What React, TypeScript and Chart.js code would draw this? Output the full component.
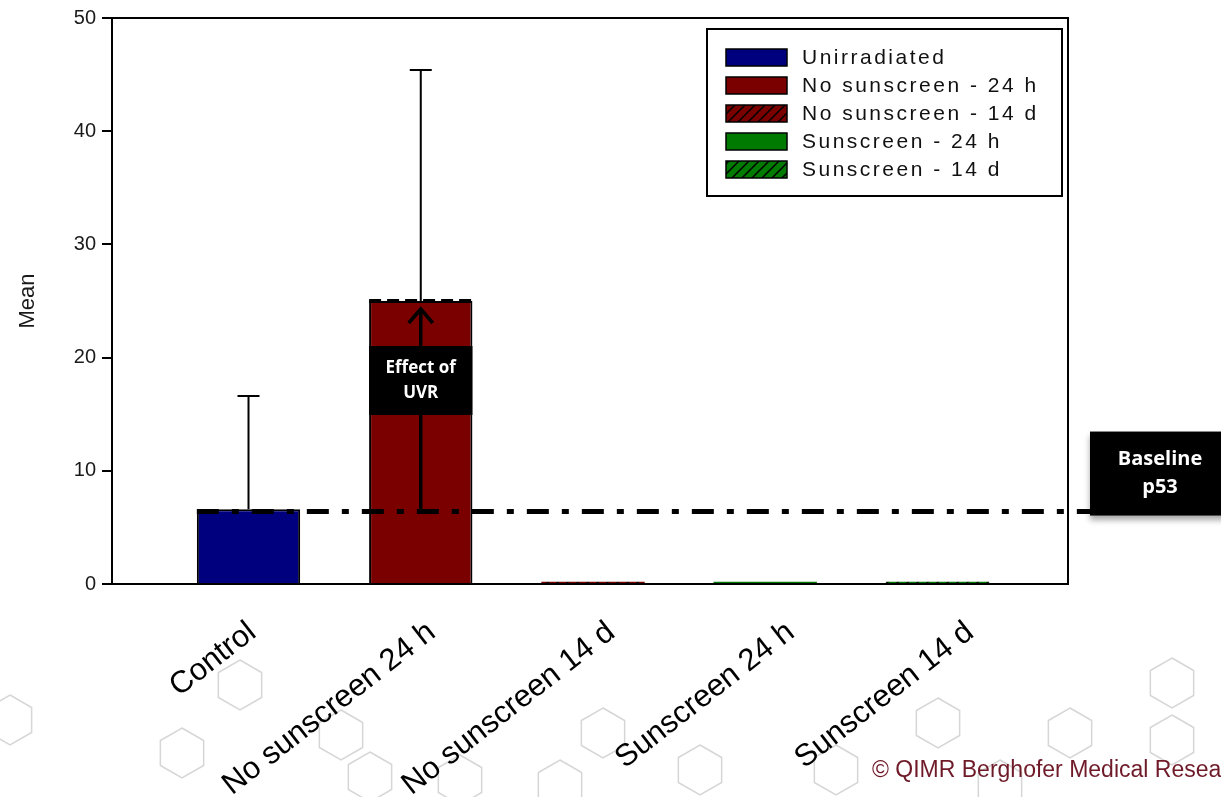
import React, { useEffect, useRef } from 'react';
import { Chart, registerables } from 'chart.js';

Chart.register(...registerables);

// ---- data ----
const categories = ['Control', 'No sunscreen 24 h', 'No sunscreen 14 d', 'Sunscreen 24 h', 'Sunscreen 14 d'];
const means = [6.6, 25.0, 0.2, 0.2, 0.2];
const upperErrors = [10.0, 20.4, 0, 0, 0];
const barColors = ['#00007f', '#7a0000', '#7a0000', '#007a00', '#007a00'];
const barHatched = [false, false, true, false, true];
const legendLabels = ['Unirradiated', 'No sunscreen - 24 h', 'No sunscreen - 14 d', 'Sunscreen - 24 h', 'Sunscreen - 14 d'];
const yTicks = [0, 10, 20, 30, 40, 50];
const baselineValue = 6.4;
const effectText = ['Effect of', 'UVR'];
const baselineText = ['Baseline', 'p53'];
const yTitle = 'Mean';
const copyright = '© QIMR Berghofer Medical Research Institute';

// decorative background honeycomb (not data)
const bgHexagons = [
  [10, 720], [182, 753], [240, 685], [341, 735], [370, 777], [603, 733], [560, 785],
  [938, 723], [836, 770], [1070, 733], [1172, 683], [1172, 740], [700, 770], [460, 780], [1000, 785],
];

const FONT = '"Liberation Sans", Arial, sans-serif';

function makeHatch(color: string): CanvasPattern | string {
  const c = document.createElement('canvas');
  c.width = 10;
  c.height = 10;
  const g = c.getContext('2d');
  if (!g) return color;
  g.fillStyle = color;
  g.fillRect(0, 0, 10, 10);
  g.strokeStyle = '#000';
  g.lineWidth = 1.5;
  g.beginPath();
  g.moveTo(-5, 5); g.lineTo(5, -5);
  g.moveTo(0, 10); g.lineTo(10, 0);
  g.moveTo(5, 15); g.lineTo(15, 5);
  g.stroke();
  const p = g.createPattern(c, 'repeat');
  return p || color;
}

const bgPlugin = {
  id: 'bgPlugin',
  beforeDraw(chart: any) {
    const ctx = chart.ctx;
    ctx.save();
    ctx.fillStyle = '#fff';
    ctx.fillRect(0, 0, chart.width, chart.height);
    ctx.strokeStyle = '#d6d6d6';
    ctx.lineWidth = 1.5;
    const r = 25;
    bgHexagons.forEach(([cx, cy]) => {
      ctx.beginPath();
      for (let k = 0; k < 6; k++) {
        const a = (-90 + 60 * k) * Math.PI / 180;
        const px = cx + r * Math.cos(a);
        const py = cy + r * Math.sin(a);
        if (k === 0) ctx.moveTo(px, py); else ctx.lineTo(px, py);
      }
      ctx.closePath();
      ctx.stroke();
    });
    ctx.restore();
  },
};

const overlayPlugin = {
  id: 'overlayPlugin',
  afterDatasetsDraw(chart: any) {
    const ctx = chart.ctx;
    const { left, right, top, bottom } = chart.chartArea;
    const y = chart.scales.y;
    const meta = chart.getDatasetMeta(0);
    ctx.save();

    // frame
    ctx.strokeStyle = '#000';
    ctx.lineWidth = 2;
    ctx.setLineDash([]);
    ctx.strokeRect(left, top, right - left, bottom - top);

    // error bars (upper only)
    meta.data.forEach((bar: any, i: number) => {
      if (!upperErrors[i]) return;
      const yTop = y.getPixelForValue(means[i] + upperErrors[i]);
      const yBar = y.getPixelForValue(means[i]);
      ctx.lineWidth = 2;
      ctx.beginPath();
      ctx.moveTo(bar.x, yBar);
      ctx.lineTo(bar.x, yTop);
      ctx.moveTo(bar.x - 11, yTop);
      ctx.lineTo(bar.x + 11, yTop);
      ctx.stroke();
    });

    const b0: any = meta.data[0];
    const b1: any = meta.data[1];
    const basePx = y.getPixelForValue(baselineValue);
    const topPx = y.getPixelForValue(means[1]);

    // dashed line on top of the irradiated bar
    ctx.lineWidth = 4;
    ctx.setLineDash([12, 6]);
    ctx.beginPath();
    ctx.moveTo(b1.x - b1.width / 2, topPx);
    ctx.lineTo(b1.x + b1.width / 2, topPx);
    ctx.stroke();

    // arrow
    ctx.setLineDash([]);
    ctx.lineWidth = 3.5;
    ctx.beginPath();
    ctx.moveTo(b1.x, basePx);
    ctx.lineTo(b1.x, topPx + 8);
    ctx.stroke();
    ctx.beginPath();
    ctx.moveTo(b1.x - 12, topPx + 22);
    ctx.lineTo(b1.x, topPx + 8);
    ctx.lineTo(b1.x + 12, topPx + 22);
    ctx.stroke();

    // effect box
    const bx = b1.x - b1.width / 2;
    const by = topPx + 45;
    ctx.fillStyle = '#000';
    ctx.fillRect(bx, by, b1.width, 69);
    ctx.fillStyle = '#fff';
    ctx.font = 'bold 17px "Open Sans", sans-serif';
    ctx.textAlign = 'center';
    ctx.textBaseline = 'middle';
    ctx.fillText(effectText[0], b1.x, by + 22);
    ctx.fillText(effectText[1], b1.x, by + 47);

    // baseline dash-dot line
    ctx.strokeStyle = '#000';
    ctx.lineWidth = 5;
    ctx.setLineDash([22, 13, 7, 13]);
    ctx.beginPath();
    ctx.moveTo(b0.x - b0.width / 2, basePx);
    ctx.lineTo(right + 22, basePx);
    ctx.stroke();
    ctx.setLineDash([]);

    // baseline label box
    const lbx = right + 22;
    ctx.save();
    ctx.shadowColor = 'rgba(0,0,0,0.35)';
    ctx.shadowBlur = 6;
    ctx.shadowOffsetY = 4;
    ctx.fillStyle = '#000';
    ctx.fillRect(lbx, basePx - 80, 150, 84);
    ctx.restore();
    ctx.fillStyle = '#fff';
    ctx.font = 'bold 20px "Open Sans", sans-serif';
    ctx.textAlign = 'center';
    ctx.textBaseline = 'middle';
    ctx.fillText(baselineText[0], lbx + 70, basePx - 52);
    ctx.fillText(baselineText[1], lbx + 70, basePx - 24);

    // legend
    const lx = right - 361;
    const ly = top + 11;
    const lw = 355;
    const lh = 167;
    ctx.fillStyle = '#fff';
    ctx.fillRect(lx, ly, lw, lh);
    ctx.strokeStyle = '#000';
    ctx.lineWidth = 2;
    ctx.strokeRect(lx, ly, lw, lh);
    ctx.font = `21px ${FONT}`;
    (ctx as any).letterSpacing = '2.5px';
    ctx.textAlign = 'left';
    ctx.textBaseline = 'middle';
    legendLabels.forEach((lab, i) => {
      const ry = ly + 28 + i * 28;
      ctx.fillStyle = barHatched[i] ? makeHatch(barColors[i]) : barColors[i];
      ctx.fillRect(lx + 19, ry - 8, 61, 17);
      ctx.lineWidth = 1.5;
      ctx.strokeStyle = '#000';
      ctx.strokeRect(lx + 19, ry - 8, 61, 17);
      ctx.fillStyle = '#111';
      ctx.fillText(lab, lx + 95, ry + 1);
    });
    (ctx as any).letterSpacing = '0px';

    // copyright
    ctx.fillStyle = '#6e1a28';
    ctx.font = `23px ${FONT}`;
    ctx.textAlign = 'left';
    ctx.textBaseline = 'alphabetic';
    ctx.fillText(copyright, 872, 777);

    ctx.restore();
  },
};

export default function App() {
  const ref = useRef<HTMLCanvasElement | null>(null);

  useEffect(() => {
    if (!ref.current) return;
    const colors = barColors.map((c, i) => (barHatched[i] ? makeHatch(c) : c));
    const chart = new Chart(ref.current, {
      type: 'bar',
      data: {
        datasets: [
          {
            label: yTitle,
            data: means.map((v, i) => ({ x: i, y: v })) as any,
            backgroundColor: colors as any,
            borderColor: '#000',
            borderWidth: means.map((v) => (v > 1 ? 2 : 0)) as any,
            categoryPercentage: 0.6,
            barPercentage: 1,
          },
        ],
      },
      options: {
        responsive: false,
        animation: false,
        layout: { padding: { top: 17, right: 153, left: 0, bottom: 0 } },
        plugins: { legend: { display: false }, tooltip: { enabled: false } },
        scales: {
          x: {
            type: 'linear',
            offset: false,
            display: false,
            min: -0.7925,
            max: 4.7575,
            afterBuildTicks: (scale: any) => {
              scale.ticks = categories.map((_, i) => ({ value: i }));
            },
          },
          xLabels: {
            type: 'linear',
            position: 'bottom',
            offset: false,
            min: -0.7497,
            max: 4.579,
            grid: { display: false, drawTicks: false },
            border: { display: false },
            afterBuildTicks: (scale: any) => {
              scale.ticks = categories.map((_, i) => ({ value: i }));
            },
            afterFit: (scale: any) => {
              scale.height = 213;
            },
            ticks: {
              autoSkip: false,
              maxRotation: 38,
              minRotation: 38,
              padding: 30,
              labelOffset: 6,
              color: '#000',
              font: { family: FONT, size: 31 },
              callback: (v: any) => categories[Number(v)] ?? '',
            },
          },
          y: {
            min: 0,
            max: 50,
            afterBuildTicks: (scale: any) => {
              scale.ticks = yTicks.map((v) => ({ value: v }));
            },
            afterFit: (scale: any) => {
              scale.width = 112;
            },
            grid: { drawOnChartArea: false, drawTicks: true, tickLength: 10, color: '#000', lineWidth: 2 },
            border: { display: true, color: '#000', width: 2 },
            ticks: {
              padding: 6,
              color: '#1a1a1a',
              font: { family: FONT, size: 20 },
            },
            title: {
              display: true,
              text: yTitle,
              color: '#1a1a1a',
              font: { family: FONT, size: 22 },
              padding: { top: 15, bottom: 0 },
            },
          },
        },
      },
      plugins: [bgPlugin, overlayPlugin],
    } as any);
    return () => chart.destroy();
  }, []);

  return (
    <canvas
      ref={ref}
      width={1221}
      height={797}
      style={{ position: 'fixed', left: 0, top: 0, width: 1221, height: 797, display: 'block' }}
    />
  );
}
